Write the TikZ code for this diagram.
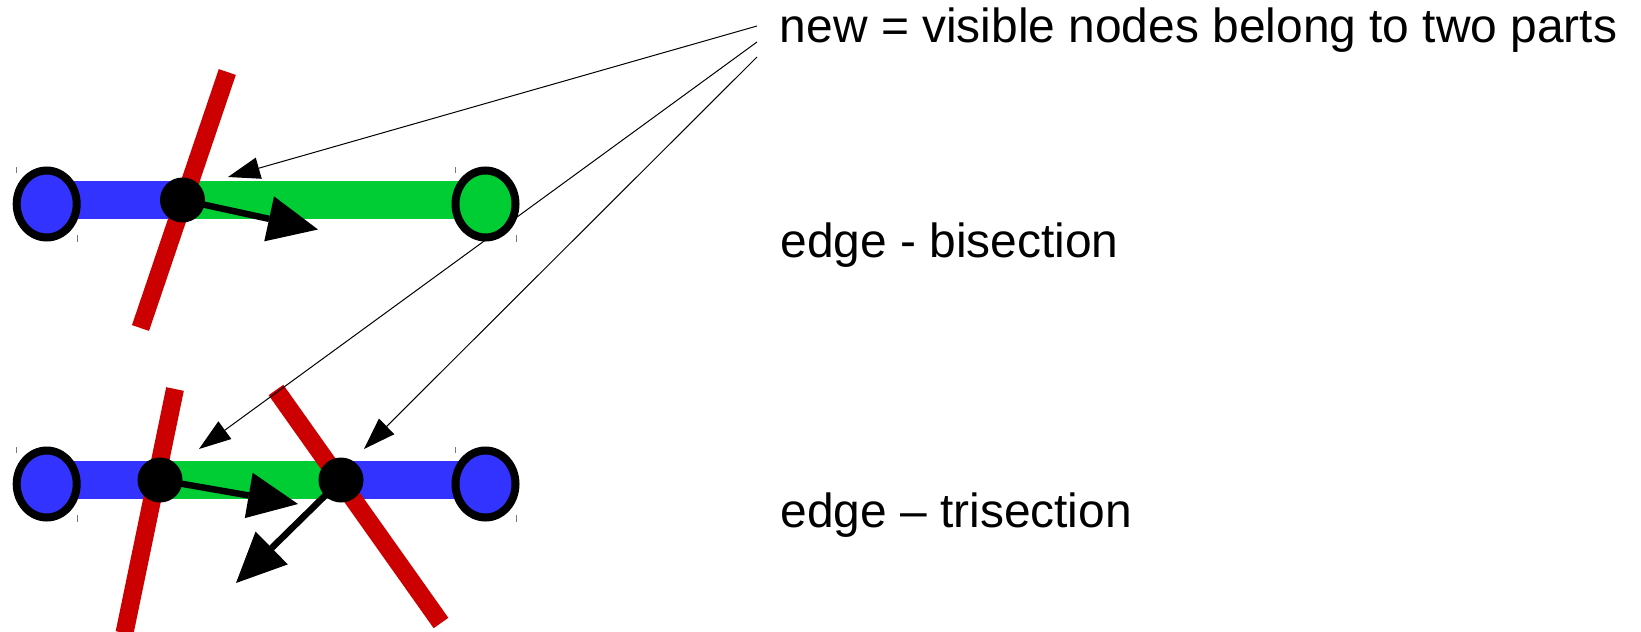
\documentclass[tikz,border=0pt]{standalone}
\usepackage{fontspec}
\setmainfont{Liberation Sans}
\usetikzlibrary{arrows.meta,shapes.geometric}
\definecolor{cblue}{RGB}{51,51,255}
\definecolor{cgreen}{RGB}{0,204,51}
\definecolor{cred}{RGB}{204,0,0}
\definecolor{ctick}{RGB}{120,120,120}
\tikzset{
  ell/.style={ellipse, draw=black, line width=4pt, inner sep=0pt, minimum width=30pt, minimum height=33.5pt},
  dot/.style={circle, fill=black, inner sep=0pt, minimum size=22.5pt},
  bar/.style={line width=19pt, line cap=butt},
  redcut/.style={draw=cred, line width=9pt, line cap=butt},
  thickarrow/.style={draw=black, line width=3.25pt, -{Triangle[length=25pt, width=23pt, line width=0pt]}},
  thinarrow/.style={draw=black, line width=0.5pt, -{Triangle[length=16pt, width=11pt, line width=0pt]}},
  tickmark/.style={draw=ctick, line width=0.6pt},
  lbl/.style={anchor=base west, inner sep=0pt, font=\fontsize{23.95}{28}\selectfont}
}
\begin{document}
\begin{tikzpicture}[x=0.5pt, y=-0.5pt]
\useasboundingbox (0,0) rectangle (1641,631);
% ---- top row: bisection ----
\coordinate (b1a) at (46.7,200);
\coordinate (b1m) at (182.5,200);
\coordinate (b1b) at (485.5,200);
\draw[bar, cblue] (b1a) -- (b1m);
\draw[bar, cgreen] (b1m) -- (b1b);
\node[ell, fill=cblue] (L1) at (46.7,204) {};
\node[ell, fill=cgreen] (R1) at (485.5,204) {};
\draw[tickmark] (16.7,167) -- ++(0,6);
\draw[tickmark] (77.7,235) -- ++(0,7);
\draw[tickmark] (455.7,167) -- ++(0,6);
\draw[tickmark] (516.2,235) -- ++(0,7);
\coordinate (r1a) at (227.3,72);
\coordinate (r1b) at (140.5,328);
\draw[redcut] (r1a) -- (r1b);
\node[dot] (D1) at (182.5,200) {};
\coordinate (T1) at (318,229.5);
\draw[thickarrow] (D1.center) -- (T1);
% ---- bottom row: trisection ----
\coordinate (b2a) at (46.7,480);
\coordinate (b2m) at (160,480);
\coordinate (b2n) at (341,480);
\coordinate (b2b) at (485.5,480);
\draw[bar, cblue] (b2a) -- (b2m);
\draw[bar, cgreen] (b2m) -- (b2n);
\draw[bar, cblue] (b2n) -- (b2b);
\node[ell, fill=cblue] (L2) at (46.7,484) {};
\node[ell, fill=cblue] (R2) at (485.5,484) {};
\draw[tickmark] (16.7,447) -- ++(0,6);
\draw[tickmark] (77.7,515) -- ++(0,7);
\draw[tickmark] (455.7,447) -- ++(0,6);
\draw[tickmark] (516.2,515) -- ++(0,7);
\coordinate (r2a) at (175,389);
\coordinate (r2b) at (124.5,633);
\coordinate (r3a) at (276,390);
\coordinate (r3b) at (441,623);
\draw[redcut] (r2a) -- (r2b);
\draw[redcut] (r3a) -- (r3b);
\node[dot] (D2) at (160,480) {};
\node[dot] (D3) at (341,480) {};
\coordinate (T2) at (298,504);
\coordinate (T3) at (236,583);
\draw[thickarrow] (D2.center) -- (T2);
\draw[thickarrow] (D3.center) -- (T3);
% ---- labels ----
\node[lbl] (t1) at (779.5,43) {new = visible nodes belong to two parts};
\node[lbl] (t2) at (780,257.7) {edge - bisection};
\node[lbl] (t3) at (780,527.7) {edge -- trisection};
% ---- pointer arrows ----
\coordinate (S1) at (757,26);
\coordinate (S2) at (757,42);
\coordinate (S3) at (757,57);
\coordinate (A1) at (228,177);
\coordinate (A2) at (199,449);
\coordinate (A3) at (364,449);
\draw[thinarrow] (S1) -- (A1);
\draw[thinarrow] (S2) -- (A2);
\draw[thinarrow] (S3) -- (A3);
\end{tikzpicture}
\end{document}
